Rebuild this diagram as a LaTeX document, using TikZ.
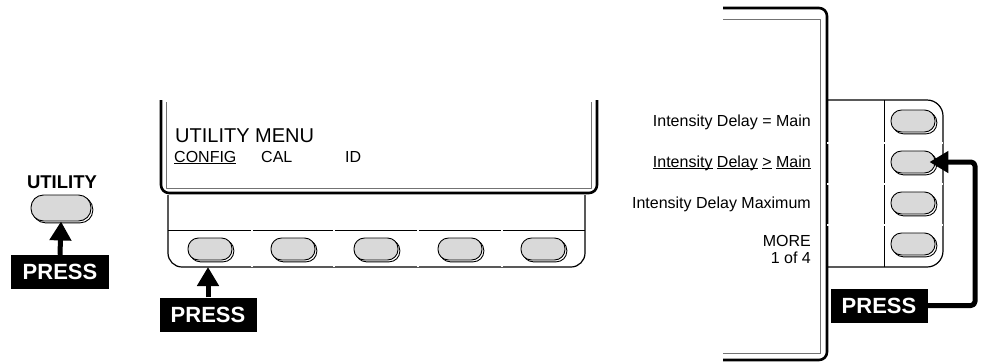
\documentclass[tikz,border=0pt]{standalone}
\usepackage{fontspec}
\setmainfont{Liberation Sans}
\usetikzlibrary{arrows.meta,shadows}
\definecolor{keygray}{gray}{0.85}
\definecolor{rulegray}{gray}{0.45}
\newcommand{\undl}[1]{\underline{\smash{#1}}}
\tikzset{
	key/.style={draw, line width=0.9bp, fill=keygray, rounded corners=10.5bp,
		minimum width=44bp, minimum height=22bp, inner sep=0pt,
		general shadow={shadow xshift=1.8bp, shadow yshift=-1.8bp, draw, line width=0.9bp}},
	pressbox/.style={fill=black, text=white, font=\fontsize{22bp}{24bp}\selectfont\bfseries,
		minimum width=97bp, minimum height=34bp, inner sep=0pt},
	pressarrow/.style={line width=5bp, -{Triangle[width=21bp,length=19bp]}},
	menutext/.style={font=\fontsize{16bp}{17bp}\selectfont, inner sep=0pt},
	softline/.style={double, double distance=1.3bp, line width=0.6bp}
}
\begin{document}
\begin{tikzpicture}[x=1bp, y=-1bp, line join=round]
				\useasboundingbox (0,0) rectangle (982,362);
				\coordinate (panelfoot) at (208,267);
				\coordinate (bend) at (975,162);
				
				% display and soft keys
				\draw[line width=2.6bp, rounded corners=8bp] (161,100) -- (161,193) -- (597,193) -- (597,100);
				\draw[rulegray, line width=0.8bp] (166,102) -- (166,188) -- (591,188) -- (591,102);
				\draw[line width=1.2bp, rounded corners=14bp] (168,195) -- (168,267) -- (585,267) -- (585,195);
				\draw[line width=0.7bp] (168,230) -- (585,230);
				\foreach \x in {252,334,418,502}
					\draw[softline] (\x,195) -- (\x,267);
				\foreach \x [count=\i] in {210,293,376,460,543}
					\node[key] (soft\i) at (\x,249) {};
				
				\node[anchor=base west, inner sep=0pt, font=\fontsize{20bp}{22bp}\selectfont] (title) at (175,142) {UTILITY MENU};
				\node[menutext, anchor=base west] (config) at (174,162) {\undl{CONFIG}};
				\node[menutext, anchor=base west] (cal) at (261,162) {CAL};
				\node[menutext, anchor=base west] (id) at (345,162) {ID};
				
				% side menu
				\draw[line width=2.6bp, rounded corners=8bp] (723,8) -- (827,8) -- (827,360) -- (723,360);
				\draw[rulegray, line width=0.8bp] (723,19) -- (820,19) -- (820,353) -- (723,353);
				\draw[line width=1.2bp, rounded corners=16bp] (827,100) -- (943,100) -- (943,267) -- (827,267);
				\draw[line width=0.7bp] (884,100) -- (884,267);
				\foreach \y in {143,184,225}
					\draw[softline] (827,\y) -- (943,\y);
				\foreach \y [count=\i] in {121,162,203,244}
					\node[key] (side\i) at (913,\y) {};
				
				\node[menutext, anchor=base east] (opt1) at (811,126) {Intensity Delay = Main};
				\node[menutext, anchor=base east] (opt2) at (811,167) {\undl{Intensity} \undl{Delay} \undl{>} \undl{Main}};
				\node[menutext, anchor=base east] (opt3) at (811,208) {Intensity Delay Maximum};
				\node[menutext, anchor=north east, align=right] (optmore) at (811,235.5) {MORE\\1 of 4};
				
				% front panel key
				\node[key, minimum width=60bp, minimum height=26bp, rounded corners=12.5bp] (utilkey) at (61,208) {};
				\node[anchor=base, inner sep=0pt, font=\fontsize{18.5bp}{20bp}\selectfont\bfseries] (utillabel) at (62,188) {UTILITY};
				
				\node[pressbox] (press1) at (60,272) {PRESS};
				\node[pressbox] (press2) at (208,314.5) {PRESS};
				\node[pressbox] (press3) at (879,305.5) {PRESS};
				
				\draw[pressarrow] (press1.north) -- (utilkey.south);
				\draw[pressarrow] (press2.north) -- (panelfoot);
				\draw[pressarrow, rounded corners=4bp, shorten >=-6bp] (press3.east) -| (bend) -- (side2.east);
			\end{tikzpicture}
\end{document}
